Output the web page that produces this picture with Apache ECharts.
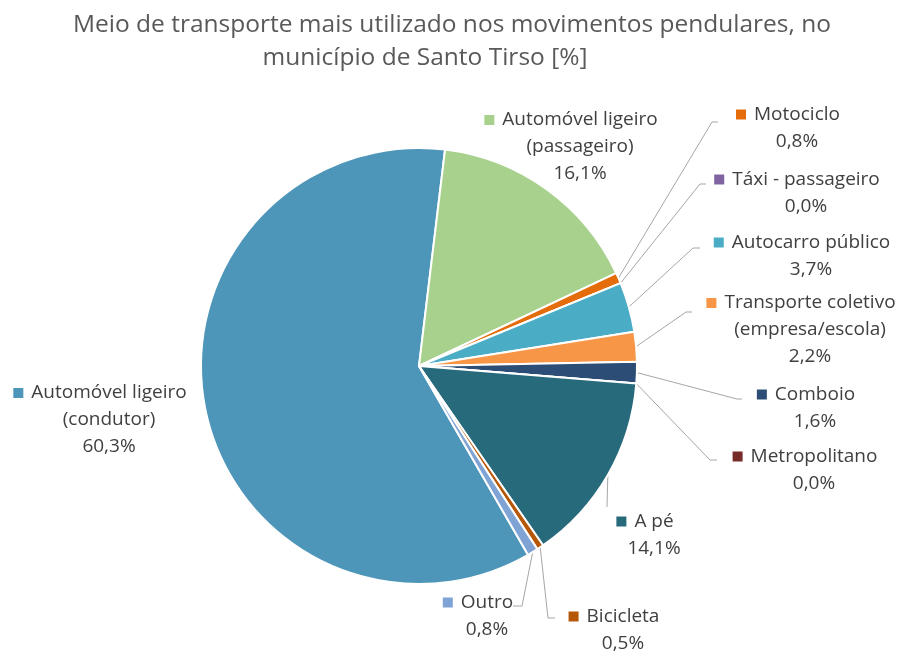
<!DOCTYPE html>
<html><head><meta charset="utf-8">
<script src="https://cdn.jsdelivr.net/npm/echarts@6/dist/echarts.min.js"></script>
<style>html,body{margin:0;padding:0;background:#fff}#c{width:897px;height:653px}</style>
</head><body><div id="c"></div>
<script>
const titleLines = ['Meio de transporte mais utilizado nos movimentos pendulares, no', 'município de Santo Tirso [%]'];
const categories = [
  'Automóvel ligeiro (condutor)',
  'Automóvel ligeiro (passageiro)',
  'Motociclo',
  'Táxi - passageiro',
  'Autocarro público',
  'Transporte coletivo (empresa/escola)',
  'Comboio',
  'Metropolitano',
  'A pé',
  'Bicicleta',
  'Outro'
];
const values = [60.3, 16.1, 0.8, 0.0, 3.7, 2.2, 1.6, 0.0, 14.1, 0.5, 0.8];
const colors = ['#4E96B9', '#A9D18E', '#E46C0A', '#8064A2', '#4BACC6', '#F79646', '#2C4D75', '#772C2A', '#276A7C', '#B65708', '#7EA3D4'];

// label placement (layout only)
const labelPos = [
  {x: 109, y: 420},
  {x: 580, y: 147},
  {x: 797, y: 128, line: [[712, 122], [718, 122]]},
  {x: 806, y: 193, line: [[700, 184], [706, 184]]},
  {x: 811, y: 256, line: [[693, 248], [700, 248]]},
  {x: 810, y: 330, line: [[686, 312], [692, 312]]},
  {x: 815, y: 408, line: [[737, 399], [742, 399]]},
  {x: 814, y: 470, line: [[710, 460], [717, 460]]},
  {x: 654, y: 535, line: [[607, 507], [607, 507]]},
  {x: 623, y: 630, line: [[548, 618], [555, 618]]},
  {x: 487, y: 616, line: [[522, 606], [513, 606]]}
];

const FONT = '"Open Sans", "Noto Sans", sans-serif';
const rich = {
  n: {fontSize: 19, lineHeight: 27, color: '#404040', fontFamily: FONT},
  g: {width: 8},
  sp: {width: 18}
};
colors.forEach((c, i) => { rich['sq' + i] = {width: 10, height: 10, backgroundColor: c}; });

const fmt = v => v.toFixed(1).replace('.', ',') + '%';

const chart = echarts.init(document.getElementById('c'), null, {renderer: 'canvas'});
chart.setOption({
  animation: false,
  backgroundColor: '#ffffff',
  title: [
    {text: titleLines[0], left: 447, top: 8, textAlign: 'center',
     textStyle: {fontSize: 24.5, fontWeight: 'normal', color: '#595959', fontFamily: FONT}},
    {text: titleLines[1], left: 420, top: 41, textAlign: 'center',
     textStyle: {fontSize: 24.5, fontWeight: 'normal', color: '#595959', fontFamily: FONT}}
  ],
  series: [{
    type: 'pie',
    center: [419, 366],
    radius: [0, 218],
    startAngle: -60,
    clockwise: true,
    avoidLabelOverlap: false,
    itemStyle: {borderColor: '#ffffff', borderWidth: 2},
    label: {
      show: true,
      position: 'outside',
      align: 'center',
      rich: rich,
      formatter: p => {
        const i = p.dataIndex;
        const parts = p.name.replace(' (', '\n(').split('\n');
        let s = '{sq' + i + '|}{g|}{n|' + parts[0] + '}{sp|}';
        for (let k = 1; k < parts.length; k++) s += '\n{n|' + parts[k] + '}';
        s += '\n{n|' + fmt(p.value) + '}';
        return s;
      }
    },
    labelLine: {show: true, lineStyle: {color: '#A6A6A6', width: 1}, length: 10, length2: 10},
    labelLayout: p => {
      const L = labelPos[p.dataIndex];
      const r = {x: L.x, y: L.y, align: 'center', verticalAlign: 'middle'};
      if (L.line && p.labelLinePoints) {
        r.labelLinePoints = [p.labelLinePoints[0], L.line[0], L.line[1]];
      }
      return r;
    },
    emphasis: {disabled: true},
    data: categories.map((name, i) => ({
      name: name, value: values[i],
      itemStyle: {color: colors[i]},
      labelLine: {show: !!labelPos[i].line}
    }))
  }]
});
</script></body></html>
